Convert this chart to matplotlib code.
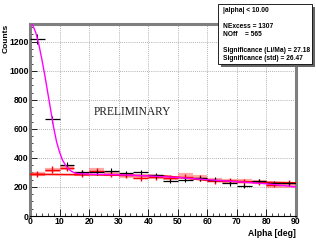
import matplotlib
matplotlib.use("Agg")
import matplotlib.pyplot as plt
import numpy as np

# ---- data ----
bin_edges = [0, 5, 10, 15, 20, 25, 30, 35, 40, 45, 50, 55, 60, 65, 70, 75, 80, 85, 90]
on_counts = [1220, 665, 352, 300, 300, 312, 293, 300, 280, 242, 250, 260, 250, 225, 207, 240, 228, 225]
on_errors = [35, 26, 19, 17, 17, 18, 17, 17, 17, 16, 16, 16, 16, 15, 14, 15, 15, 15]
off_counts = [290, 320, 330, 292, 310, 290, 280, 264, 270, 264, 270, 260, 241, 239, 235, 234, 216, 228]
off_errors = [22, 22, 22, 22, 22, 21, 21, 21, 21, 21, 21, 21, 20, 20, 20, 20, 19, 20]
off_band = [290, 320, 329, 292, 315, 290, 278, 271, 270, 260, 283, 269, 245, 240, 239, 235, 205, 208]
fit_x = [0, 1, 2, 3, 4, 5, 6, 7, 8, 9, 10, 11, 12, 13, 14, 15, 16, 18, 20, 30, 40, 50, 60, 70, 80, 90]
fit_y = [1335, 1310, 1260, 1180, 1080, 970, 850, 730, 610, 510, 440, 385, 350, 325, 308, 298, 293, 290, 288, 284, 276, 265, 250, 236, 222, 200]
bg_x = [0, 20, 45, 60, 75, 90]
bg_y = [287, 284, 277, 245, 235, 228]
stat_lines = ["|alpha| < 10.00", "", "NExcess = 1307", "NOff    = 565", "",
              "Significance (Li/Ma) = 27.18", "Significance (std) = 26.47"]

W, H = 316, 241
fig = plt.figure(figsize=(W / 100, H / 100), dpi=100)
fig.patch.set_facecolor("white")
ax = fig.add_axes([30 / W, (H - 216) / H, 266 / W, 192 / H])

edges = np.array(bin_edges, dtype=float)
left = edges[:-1]
right = edges[1:]
centers = 0.5 * (left + right)

ax.set_xlim(0, 90)
ax.set_ylim(0, 1322)
ax.set_xticks(np.arange(0, 91, 10))
ax.set_yticks(np.arange(0, 1201, 200))
ax.set_xticks(np.arange(0, 91, 2), minor=True)
ax.set_yticks(np.arange(0, 1301, 50), minor=True)
ax.grid(True, which="major", color="#999999", linestyle=(0, (1, 1.5)), linewidth=0.6)

# pink band (OFF shaded)
ax.hlines(off_band, left, right, colors="#ff7070", linewidth=3.0, alpha=0.6, zorder=2)

# background line
ax.plot(bg_x, bg_y, color="red", linewidth=1.2, zorder=3)

# OFF crosses
ax.hlines(off_counts, left, right, colors="red", linewidth=1.0, zorder=4)
ax.vlines(centers, np.array(off_counts) - np.array(off_errors),
          np.array(off_counts) + np.array(off_errors), colors="red", linewidth=1.0, zorder=4)

# ON crosses
ax.hlines(on_counts, left, right, colors="black", linewidth=0.9, zorder=5)
ax.vlines(centers, np.array(on_counts) - np.array(on_errors),
          np.array(on_counts) + np.array(on_errors), colors="black", linewidth=0.8, zorder=5)

# fit curve
ax.plot(fit_x, fit_y, color="#ff00ff", linewidth=1.0, zorder=6, clip_on=True)

# frame style
for s in ["top", "right", "left"]:
    ax.spines[s].set_color("#7f7f7f")
    ax.spines[s].set_linewidth(2.2)
ax.spines["bottom"].set_color("black")
ax.spines["bottom"].set_linewidth(0.8)

ax.tick_params(axis="both", which="both", direction="in", color="black")
ax.tick_params(axis="both", which="major", length=5, width=0.6, labelsize=6.2, pad=1)
ax.tick_params(axis="both", which="minor", length=2.5, width=0.5)
ax.tick_params(axis="x", which="both", top=False)
ax.tick_params(axis="y", which="both", right=False)
for lab in ax.get_xticklabels() + ax.get_yticklabels():
    lab.set_fontweight("bold")
    lab.set_family("Liberation Sans")

fig.text(6 / W, 1 - 24 / H, "Counts", rotation=90, ha="center", va="top",
         fontsize=6.0, fontweight="bold", family="Liberation Sans")
fig.text(296 / W, 1 - 233 / H, "Alpha [deg]", ha="right", va="center",
         fontsize=6.2, fontweight="bold", family="Liberation Sans")

ax.text(21.4, 717, "PRELIMINARY", ha="left", va="center", fontsize=8.3,
        family="Liberation Serif", color="#222222", zorder=7)

# stat box with shadow
bx0, by0, bx1, by1 = 218, 4, 312, 64
fig.patches.append(plt.Rectangle(((bx0 + 3) / W, 1 - (by1 + 3) / H), (bx1 - bx0) / W, (by1 - by0) / H,
                                 transform=fig.transFigure, facecolor="#666666", edgecolor="none", zorder=8))
fig.patches.append(plt.Rectangle((bx0 / W, 1 - by1 / H), (bx1 - bx0) / W, (by1 - by0) / H,
                                 transform=fig.transFigure, facecolor="white", edgecolor="black",
                                 linewidth=0.6, zorder=9))
line_y = [11, 19, 27, 35, 43, 51, 59]
for txt, yy in zip(stat_lines, line_y):
    if txt:
        fig.text((bx0 + 5) / W, 1 - yy / H, txt, ha="left", va="center", fontsize=4.75,
                 fontweight="bold", family="Liberation Sans", zorder=10)

fig.savefig("out.png", dpi=100)
